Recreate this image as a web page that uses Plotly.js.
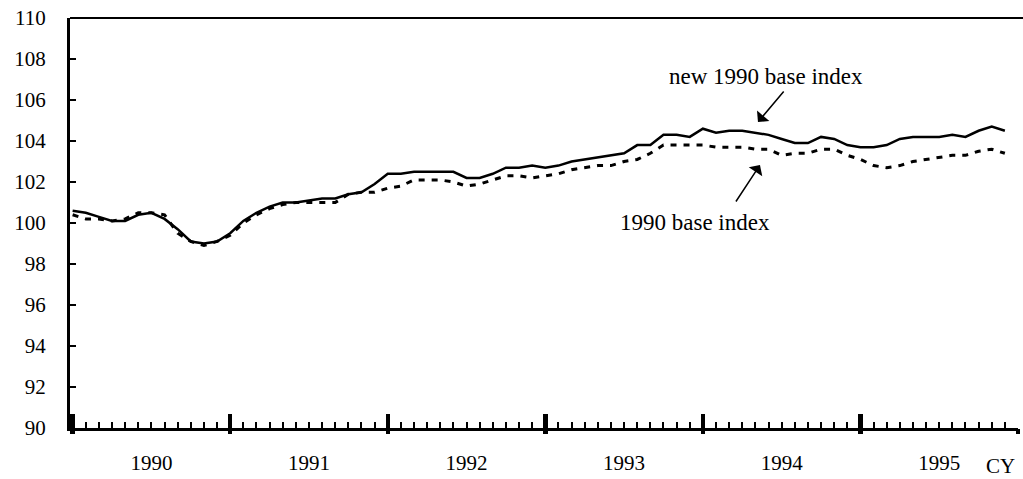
<!DOCTYPE html>
<html>
<head>
<meta charset="utf-8">
<script src="https://cdn.plot.ly/plotly-3.0.1.min.js"></script>
<style>html,body{margin:0;padding:0;background:#fff;}#chart{width:1023px;height:479px;}</style>
</head>
<body>
<div id="chart"></div>
<script>
// Monthly index values, Jan 1990 .. Dec 1995 (month index 0..71)
const months = Array.from({length: 72}, (_, i) => i);
const newBaseIndex = [
  100.6,100.5,100.3,100.1,100.1,100.4,100.5,100.2,99.7,99.1,99.0,99.1,
  99.5,100.1,100.5,100.8,101.0,101.0,101.1,101.2,101.2,101.4,101.5,101.9,
  102.4,102.4,102.5,102.5,102.5,102.5,102.2,102.2,102.4,102.7,102.7,102.8,
  102.7,102.8,103.0,103.1,103.2,103.3,103.4,103.8,103.8,104.3,104.3,104.2,
  104.6,104.4,104.5,104.5,104.4,104.3,104.1,103.9,103.9,104.2,104.1,103.8,
  103.7,103.7,103.8,104.1,104.2,104.2,104.2,104.3,104.2,104.5,104.7,104.5
];
const oldBaseIndex = [
  100.4,100.2,100.2,100.1,100.2,100.5,100.5,100.4,99.5,99.1,98.9,99.1,
  99.4,100.0,100.4,100.7,100.9,101.0,101.0,101.0,101.0,101.4,101.5,101.5,
  101.7,101.8,102.1,102.1,102.1,102.0,101.8,101.9,102.1,102.3,102.3,102.2,
  102.3,102.4,102.6,102.7,102.8,102.8,103.0,103.1,103.4,103.8,103.8,103.8,
  103.8,103.7,103.7,103.7,103.6,103.6,103.3,103.4,103.4,103.6,103.6,103.3,
  103.1,102.8,102.7,102.8,103.0,103.1,103.2,103.3,103.3,103.5,103.6,103.4
];
const yearLabels = ["1990","1991","1992","1993","1994","1995"];
const yearCenters = yearLabels.map((_, k) => k * 12 + 6);
const yearBounds = [0, 12, 24, 36, 48, 60, 72];

const FONT = "Liberation Serif, Times New Roman, serif";

const traces = [
  {x: months, y: oldBaseIndex, type: "scatter", mode: "lines", name: "1990 base index",
   line: {color: "#000", width: 3, dash: "6px,7px"}, hoverinfo: "skip"},
  {x: months, y: newBaseIndex, type: "scatter", mode: "lines", name: "new 1990 base index",
   line: {color: "#000", width: 2.5}, hoverinfo: "skip"},
  {x: [], y: [], xaxis: "x2", type: "scatter", showlegend: false},
  {x: [], y: [], xaxis: "x3", type: "scatter", showlegend: false}
];

const layout = {
  width: 1023, height: 479,
  margin: {l: 70, r: 5, t: 18, b: 51},
  paper_bgcolor: "#fff", plot_bgcolor: "#fff",
  showlegend: false,
  font: {family: FONT, size: 21, color: "#000"},
  xaxis: {
    range: [-0.2, 72], showgrid: false, zeroline: false,
    showline: true, linecolor: "#000", linewidth: 3,
    tickmode: "array", tickvals: yearBounds, ticks: "inside", ticklen: 14, tickwidth: 4.5, tickcolor: "#000",
    showticklabels: false,
    minor: {tickmode: "linear", tick0: 0, dtick: 1, ticks: "inside", ticklen: 6, tickwidth: 2, tickcolor: "#000"}
  },
  xaxis2: {
    overlaying: "x", matches: "x", anchor: "y", side: "bottom",
    showgrid: false, zeroline: false, showline: false,
    tickmode: "array", tickvals: yearCenters, ticktext: yearLabels, ticks: "",
    ticklabelstandoff: 20,
    tickfont: {family: FONT, size: 21, color: "#000"}
  },
  xaxis3: {
    overlaying: "x", matches: "x", anchor: "y", side: "bottom",
    showgrid: false, zeroline: false, showline: false,
    tickmode: "array", tickvals: yearBounds, ticks: "outside", ticklen: 5, tickwidth: 4.5, tickcolor: "#000",
    showticklabels: false
  },
  yaxis: {
    range: [90, 110], dtick: 2, tick0: 90, showgrid: false, zeroline: false,
    showline: true, linecolor: "#000", linewidth: 3,
    ticks: "inside", ticklen: 6, tickwidth: 2, tickcolor: "#000",
    ticklabelstandoff: 17,
    tickfont: {family: FONT, size: 21, color: "#000"}
  },
  shapes: [
    {type: "line", xref: "paper", yref: "paper", x0: 0, x1: 1.01, y0: 1, y1: 1,
     line: {color: "#000", width: 2}}
  ],
  annotations: [
    {xref: "paper", yref: "paper", x: 0.734, y: 0.8585, xanchor: "center", yanchor: "middle",
     text: "new 1990 base index", showarrow: false, font: {family: FONT, size: 23, color: "#000"}},
    {xref: "paper", yref: "paper", x: 0.7257, y: 0.7463, text: "", showarrow: true,
     arrowhead: 1, arrowsize: 1.8, arrowwidth: 1.5, arrowcolor: "#000", ax: 27, ay: -32},
    {xref: "paper", yref: "paper", x: 0.659, y: 0.5024, xanchor: "center", yanchor: "middle",
     text: "1990 base index", showarrow: false, font: {family: FONT, size: 23, color: "#000"}},
    {xref: "paper", yref: "paper", x: 0.7278, y: 0.6415, text: "", showarrow: true,
     arrowhead: 1, arrowsize: 1.8, arrowwidth: 1.5, arrowcolor: "#000", ax: -25, ay: 38},
    {xref: "paper", yref: "paper", x: 0.982, y: -0.0927, xanchor: "center", yanchor: "middle",
     text: "CY", showarrow: false, font: {family: FONT, size: 21, color: "#000"}}
  ]
};

Plotly.newPlot("chart", traces, layout, {staticPlot: true, displayModeBar: false});
</script>
</body>
</html>
